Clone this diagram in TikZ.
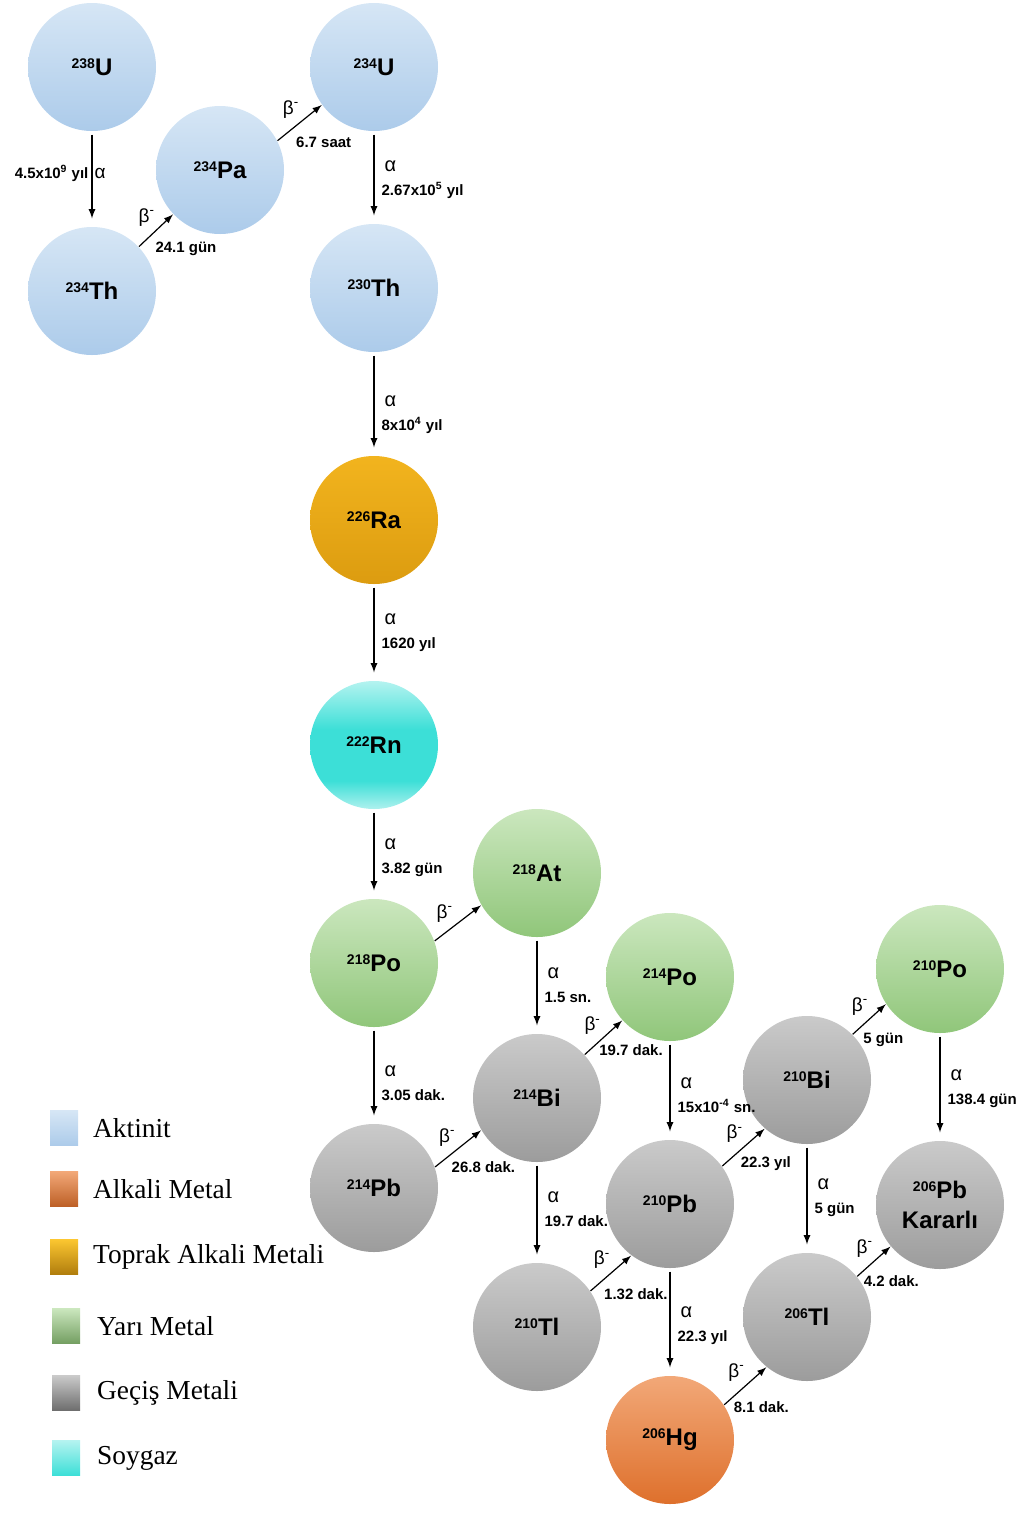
\documentclass[tikz,border=0pt]{standalone}
\usepackage{fontspec}
\setmainfont{Liberation Serif}
\setsansfont{Liberation Sans}
\usetikzlibrary{positioning}

\definecolor{akt1}{HTML}{D6E6F5}
\definecolor{akt2}{HTML}{ACCBEA}
\definecolor{alk1}{HTML}{F2A878}
\definecolor{alk2}{HTML}{DE702C}
\definecolor{top1}{HTML}{F2B41E}
\definecolor{top2}{HTML}{FBC631}
\definecolor{top3}{HTML}{DC9C10}
\definecolor{yar1}{HTML}{CBE7BE}
\definecolor{yar2}{HTML}{90C67A}
\definecolor{gec1}{HTML}{CACACA}
\definecolor{gec2}{HTML}{9C9C9C}
\definecolor{soy1}{HTML}{B4F3F0}
\definecolor{soy2}{HTML}{3CDFD7}
\definecolor{soy3}{HTML}{AEF1EE}

\pgfdeclareverticalshading{rnshade}{100bp}{color(0bp)=(soy3); color(25bp)=(soy3);
  color(36bp)=(soy2); color(56bp)=(soy2); color(75bp)=(soy1); color(100bp)=(soy1)}

\newcommand{\nuc}[2]{\raisebox{.55ex}{\fontsize{7}{7}\selectfont #1}#2}
\newcommand{\bminus}{β\textsuperscript{-}}
\newcommand{\alfatxt}[1]{{\fontsize{10}{12}\selectfont\mdseries\hspace{1.5pt}α}\\#1}

\tikzset{
  iso/.style={circle, minimum size=64pt, inner sep=0pt, align=center,
    font=\sffamily\bfseries\fontsize{12}{15}\selectfont},
  aktinit/.style={iso, top color=akt1, bottom color=akt2},
  alkali/.style={iso, top color=alk1, bottom color=alk2},
  toprak/.style={iso, top color=top1, middle color=top2, bottom color=top3},
  yari/.style={iso, top color=yar1, bottom color=yar2},
  gecis/.style={iso, top color=gec1, bottom color=gec2},
  soygaz/.style={iso, shade, shading=rnshade},
  alfa/.style={->, shorten >=4pt, shorten <=1.5pt},
  beta/.style={->},
  lbl/.style={font=\sffamily\bfseries\fontsize{7.5}{12}\selectfont, inner sep=1.5pt},
  alab/.style={lbl, right, align=left, xshift=2pt},
  tlab/.style={lbl, pos=0, anchor=west, xshift=5.5pt, yshift=-2pt},
  blab/.style={font=\sffamily\fontsize{9.5}{10}\selectfont, inner sep=1pt},
  legbox/.style={minimum width=14pt, minimum height=17.5pt, inner sep=0pt},
  legtxt/.style={font=\fontsize{13.7}{15}\selectfont, inner sep=0pt}
}

\begin{document}
\begin{tikzpicture}[x=0.5pt, y=-0.5pt, >=latex, line width=0.6pt]
\useasboundingbox (0,0) rectangle (1017,1527);

% isotopes
\node[aktinit] (U238) at (92,67) {\nuc{238}{U}};
\node[aktinit] (Th234) at (92,291) {\nuc{234}{Th}};
\node[aktinit] (Pa234) at (220,170) {\nuc{234}{Pa}};
\node[aktinit] (U234) at (374,67) {\nuc{234}{U}};
\node[aktinit] (Th230) at (374,288) {\nuc{230}{Th}};
\node[toprak] (Ra226) at (374,520) {\nuc{226}{Ra}};
\node[soygaz] (Rn222) at (374,745) {\nuc{222}{Rn}};
\node[yari] (Po218) at (374,963) {\nuc{218}{Po}};
\node[yari] (At218) at (537,873) {\nuc{218}{At}};
\node[gecis] (Bi214) at (537,1098) {\nuc{214}{Bi}};
\node[yari] (Po214) at (670,977) {\nuc{214}{Po}};
\node[gecis] (Pb214) at (374,1188) {\nuc{214}{Pb}};
\node[gecis] (Tl210) at (537,1327) {\nuc{210}{Tl}};
\node[gecis] (Pb210) at (670,1204) {\nuc{210}{Pb}};
\node[alkali] (Hg206) at (670,1440) {\nuc{206}{Hg}};
\node[gecis] (Bi210) at (807,1080) {\nuc{210}{Bi}};
\node[gecis] (Tl206) at (807,1317) {\nuc{206}{Tl}};
\node[yari] (Po210) at (940,969) {\nuc{210}{Po}};
\node[gecis] (Pb206) at (940,1205) {\nuc{206}{Pb}\\Kararlı};

% decays
\draw[alfa] (U238) -- (Th234)
  node[pos=.44, left, lbl] {4.5x10\textsuperscript{9} yıl}
  node[pos=.44, right, blab] {α};
\draw[beta] (Th234) -- (Pa234)
  node[pos=.55, above left, blab] {\bminus}
  node[tlab, xshift=1pt, yshift=1pt] {24.1 gün};
\draw[beta] (Pa234.27) -- (U234.216)
  node[pos=.55, above left, blab] {\bminus}
  node[tlab, xshift=2pt, yshift=1pt] {6.7 saat};
\draw[alfa] (U234) -- (Th230) node[alab, pos=.52] {\alfatxt{2.67x10\textsuperscript{5} yıl}};
\draw[alfa] (Th230) -- (Ra226) node[alab, pos=.6] {\alfatxt{8x10\textsuperscript{4} yıl}};
\draw[alfa] (Ra226) -- (Rn222) node[alab, pos=.5] {\alfatxt{1620 yıl}};
\draw[alfa] (Rn222) -- (Po218) node[alab, pos=.54] {\alfatxt{3.82 gün}};
\draw[beta] (Po218.20) -- (At218.210)
  node[pos=.45, above left, blab] {\bminus};
\draw[alfa] (At218) -- (Bi214) node[alab, pos=.5] {\alfatxt{1.5 sn.}};
\draw[alfa] (Po218) -- (Pb214) node[alab, pos=.58] {\alfatxt{3.05 dak.}};
\draw[beta] (Bi214) -- (Po214)
  node[pos=.5, above left, blab] {\bminus}
  node[tlab, yshift=4pt] {19.7 dak.};
\draw[alfa] (Po214) -- (Pb210) node[alab, pos=.55] {\alfatxt{15x10\textsuperscript{-4} sn.}};
\draw[beta] (Pb214.19) -- (Bi214.210)
  node[pos=.5, above left, blab] {\bminus}
  node[tlab, xshift=1pt, yshift=2pt] {26.8 dak.};
\draw[alfa] (Bi214) -- (Tl210) node[alab, pos=.47] {\alfatxt{19.7 dak.}};
\draw[beta] (Tl210.34) -- (Pb210.233)
  node[pos=.55, above left, blab] {\bminus}
  node[tlab, xshift=-0.5pt, yshift=0.5pt] {1.32 dak.};
\draw[alfa] (Pb210) -- (Hg206) node[alab, pos=.53] {\alfatxt{22.3 yıl}};
\draw[beta] (Hg206.33) -- (Tl206.231)
  node[pos=.55, above left, blab] {\bminus}
  node[tlab, xshift=-2.5pt, yshift=1pt] {8.1 dak.};
\draw[beta] (Pb210.36) -- (Bi210.229)
  node[pos=.55, above left, blab] {\bminus}
  node[tlab, xshift=2pt, yshift=3pt] {22.3 yıl};
\draw[alfa] (Bi210) -- (Tl206) node[alab, pos=.49] {\alfatxt{5 gün}};
\draw[beta] (Bi210.45) -- (Po210.213)
  node[pos=.55, above left, blab] {\bminus}
  node[tlab, xshift=-2pt, yshift=-1pt] {5 gün};
\draw[alfa] (Po210) -- (Pb206) node[alab, pos=.52] {\alfatxt{138.4 gün}};
\draw[beta] (Tl206.39) -- (Pb206.220)
  node[pos=.55, above left, blab] {\bminus}
  node[tlab, xshift=-4pt, yshift=-0.5pt] {4.2 dak.};

% legend
\node[legbox, top color=akt1, bottom color=akt2] (kAkt) at (64,1128) {};
\node[legbox, top color=alk1, bottom color=alk2!85!black] (kAlk) at (64,1189) {};
\node[legbox, top color=top2, bottom color=top3!80!black] (kTop) at (64,1257) {};
\node[legbox, top color=yar1, bottom color=yar2!80!black] (kYar) at (66,1326) {};
\node[legbox, top color=gec1, bottom color=gec2!70!black] (kGec) at (66,1393) {};
\node[legbox, top color=soy1, bottom color=soy2] (kSoy) at (66,1458) {};
\node[legtxt, right=7pt of kAkt] {Aktinit};
\node[legtxt, right=7pt of kAlk] {Alkali Metal};
\node[legtxt, right=7pt of kTop] {Toprak Alkali Metali};
\node[legtxt, right=8pt of kYar] {Yarı Metal};
\node[legtxt, right=8pt of kGec] {Geçiş Metali};
\node[legtxt, right=8pt of kSoy] {Soygaz};
\end{tikzpicture}
\end{document}
